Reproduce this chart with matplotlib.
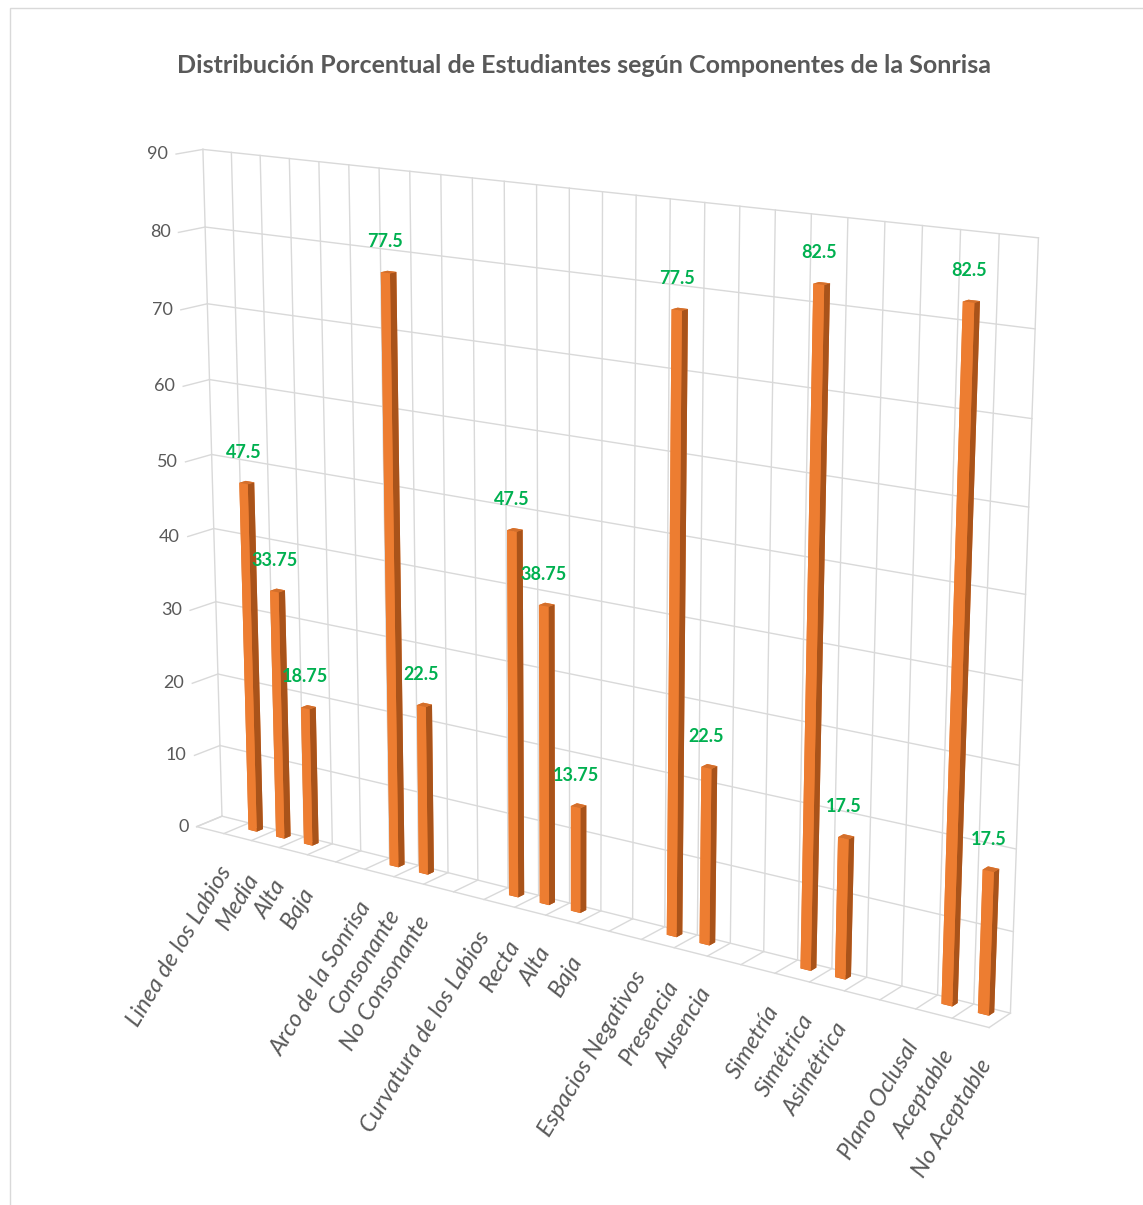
import numpy as np
import matplotlib
matplotlib.use('Agg')
import matplotlib.pyplot as plt
from matplotlib.patches import Rectangle
from mpl_toolkits.mplot3d import proj3d

# categories (blank slots separate the groups, as in the original sheet)
categories = [
    "Linea de los Labios", "Media", "Alta", "Baja", "",
    "Arco de la Sonrisa", "Consonante", "No Consonante", "",
    "Curvatura de los Labios", "Recta", "Alta", "Baja", "",
    "Espacios Negativos", "Presencia", "Ausencia", "",
    "Simetría", "Simétrica", "Asimétrica", "",
    "Plano Oclusal", "Aceptable", "No Aceptable",
]
# percentage per category (nan = header / empty slot)
values = [
    np.nan, 47.5, 33.75, 18.75, np.nan,
    np.nan, 77.5, 22.5, np.nan,
    np.nan, 47.5, 38.75, 13.75, np.nan,
    np.nan, 77.5, 22.5, np.nan,
    np.nan, 82.5, 17.5, np.nan,
    np.nan, 82.5, 17.5,
]
z_ticks = [0, 10, 20, 30, 40, 50, 60, 70, 80, 90]
title = "Distribución Porcentual de Estudiantes según Componentes de la Sonrisa"

FONT = ['Lato', 'DejaVu Sans']
GRID = '#D9D9D9'
TEXT = '#595959'
LABEL_GREEN = '#00B050'
# bottom, top, front, back, left, right
BAR_FACES = ['#C55A11', '#D46F2B', '#ED7D31', '#ED7D31', '#ED7D31', '#A9531A']

plt.rcParams['font.family'] = FONT

fig = plt.figure(figsize=(11.43, 12.05), dpi=100)
ax = fig.add_axes([0.003, 0.0597, 0.971, 0.921], projection='3d')
ax.set_proj_type('persp', focal_length=0.56)
ax.view_init(elev=15, azim=-55)

n = len(categories)
edges = np.arange(n + 1) - 0.5
ax.set_xlim(edges[0], edges[-1])
ax.set_ylim(0, 1)
ax.set_zlim(0, 90)
ax.set_box_aspect((1.39, 0.06, 1.05), zoom=1.082)
ax.set_axis_off()

# back wall, side wall and floor grid
for xe in edges:
    ax.plot([xe, xe], [1, 1], [0, 90], color=GRID, lw=1)
    ax.plot([xe, xe], [0, 1], [0, 0], color=GRID, lw=1)
for zt in z_ticks:
    ax.plot([edges[0], edges[-1]], [1, 1], [zt, zt], color=GRID, lw=1)
    ax.plot([edges[0], edges[0]], [0, 1], [zt, zt], color=GRID, lw=1)
ax.plot([edges[0], edges[-1]], [0, 0], [0, 0], color=GRID, lw=1)

# bars
vals = np.array(values, dtype=float)
idx = np.where(~np.isnan(vals))[0]
bar_w, bar_d = 0.3, 0.25
y0 = 0.72 - bar_d / 2
ax.bar3d(idx - bar_w / 2, np.full(len(idx), y0), np.zeros(len(idx)),
         bar_w, bar_d, vals[idx], color=BAR_FACES * len(idx), shade=False,
         linewidth=0)

# 2D texts need the projection, so draw once first
fig.canvas.draw()


def to_screen(x, y, z):
    px, py, _ = proj3d.proj_transform(x, y, z, ax.M)
    return px, py


for i in idx:
    ax.annotate(f"{vals[i]:g}", xy=to_screen(i, y0, vals[i]), xytext=(0, 23),
                textcoords='offset pixels', ha='center', va='bottom',
                color=LABEL_GREEN, fontsize=13, fontweight='bold',
                annotation_clip=False)

for zt in z_ticks:
    ax.annotate(str(zt), xy=to_screen(edges[0], 0, zt), xytext=(-8, 0),
                textcoords='offset pixels', ha='right', va='center',
                color=TEXT, fontsize=13, annotation_clip=False)

for i, lab in enumerate(categories):
    if not lab:
        continue
    ax.annotate(lab, xy=to_screen(i, 0, 0), xytext=(16, -38),
                textcoords='offset pixels', ha='right', va='center',
                rotation=59, rotation_mode='anchor', style='italic',
                color=TEXT, fontsize=17, annotation_clip=False)

fig.text(0.511, 0.946, title, ha='center', va='center', color=TEXT,
         fontsize=18, fontweight='bold')

fig.patches.append(Rectangle((10 / 1143, -0.1), 1.2, 1.1 - 8 / 1205,
                             transform=fig.transFigure, fill=False,
                             edgecolor=GRID, lw=1))

fig.savefig('out.png', dpi=100)
